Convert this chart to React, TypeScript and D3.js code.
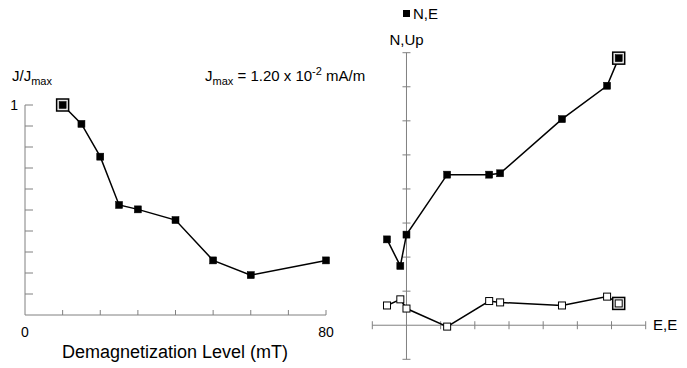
import React from "react";
import * as d3 from "d3";

// Demagnetization step (mT) and normalized intensity
const demagLevels = [10, 15, 20, 25, 30, 40, 50, 60, 80];
const intensity = [1.0, 0.91, 0.754, 0.524, 0.503, 0.452, 0.26, 0.19, 0.26];

// Orthogonal projection components (arbitrary units), NRM first
const eastComp = [6.21, 5.87, 4.55, 2.74, 2.42, 1.19, 0, -0.18, -0.57];
const northComp = [7.84, 7.03, 6.05, 4.46, 4.42, 4.42, 2.66, 1.74, 2.52];
const upComp = [0.64, 0.84, 0.58, 0.67, 0.71, -0.04, 0.49, 0.76, 0.58];

const leftXTicks = [10, 20, 30, 40, 50, 60, 70, 80];
const leftYTicks = [0.1, 0.2, 0.3, 0.4, 0.5, 0.6, 0.7, 0.8, 0.9, 1.0];
const rightXTicks = [-1, 1, 2, 3, 4, 5, 6, 7];
const rightYTicks = [-1, 1, 2, 3, 4, 5, 6, 7, 8];

const FONT = "'Liberation Sans', Arial, Helvetica, sans-serif";
const AXIS = "#808080";
const MS = 7; // marker size

const Marker = ({ x, y, filled, first }: { x: number; y: number; filled: boolean; first?: boolean }) => (
  <g>
    {first && (
      <rect x={x - 6} y={y - 6} width={12} height={12} fill="#e8e8e8" stroke="#000" strokeWidth={1.5} />
    )}
    <rect
      x={x - MS / 2}
      y={y - MS / 2}
      width={MS}
      height={MS}
      fill={filled ? "#000" : "#fff"}
      stroke="#000"
      strokeWidth={filled ? 0.5 : 1}
    />
  </g>
);

const App = () => {
  // left panel scales
  const x1 = d3.scaleLinear().domain([0, 80]).range([25, 326]);
  const y1 = d3.scaleLinear().domain([0, 1]).range([315, 105]);
  const line1 = d3
    .line<number>()
    .x((d, i) => x1(demagLevels[i]))
    .y((d) => y1(d));

  // right panel scales (equal units)
  const x2 = d3.scaleLinear().domain([-1, 7]).range([372.3, 645.7]);
  const y2 = d3.scaleLinear().domain([-1, 8]).range([359.3, 52.7]);
  const lineNE = d3
    .line<number>()
    .x((d) => x2(d))
    .y((d, i) => y2(northComp[i]));
  const lineEU = d3
    .line<number>()
    .x((d) => x2(d))
    .y((d, i) => y2(upComp[i]));

  return (
    <svg
      width={687}
      height={368}
      style={{ position: "absolute", left: 0, top: 0, background: "#fff" }}
      fontFamily={FONT}
    >
      {/* ---------- left panel ---------- */}
      <line x1={x1(0)} x2={x1(0)} y1={y1(1)} y2={y1(0)} stroke={AXIS} />
      <line x1={x1(0)} x2={x1(80)} y1={y1(0)} y2={y1(0)} stroke={AXIS} />
      {leftYTicks.map((t) => (
        <line key={"ly" + t} x1={x1(0)} x2={x1(0) + 8} y1={y1(t)} y2={y1(t)} stroke={AXIS} />
      ))}
      {leftXTicks.map((t) => (
        <line key={"lx" + t} x1={x1(t)} x2={x1(t)} y1={y1(0)} y2={y1(0) - 5} stroke={AXIS} />
      ))}
      <text x={18} y={y1(1) + 5} fontSize={14} textAnchor="end" fill="#000">1</text>
      <text x={x1(0)} y={337} fontSize={14} textAnchor="middle">0</text>
      <text x={x1(80)} y={337} fontSize={14} textAnchor="middle">80</text>
      <text x={175} y={358} fontSize={18} textAnchor="middle">Demagnetization Level (mT)</text>
      <text x={12} y={81} fontSize={15}>
        J/J<tspan fontSize={11} dy={4}>max</tspan>
      </text>
      <text x={205} y={81} fontSize={15}>
        J<tspan fontSize={11} dy={4}>max</tspan>
        <tspan dy={-4}> = 1.20 x 10</tspan>
        <tspan fontSize={11} dy={-6}>-2</tspan>
        <tspan dy={6}> mA/m</tspan>
      </text>
      <path d={line1(intensity) || ""} fill="none" stroke="#000" strokeWidth={1.5} />
      {intensity.map((v, i) => (
        <Marker key={"lm" + i} x={x1(demagLevels[i])} y={y1(v)} filled first={i === 0} />
      ))}

      {/* ---------- right panel ---------- */}
      <line x1={x2(0)} x2={x2(0)} y1={y2(8)} y2={y2(-1)} stroke={AXIS} />
      <line x1={x2(-1)} x2={x2(7)} y1={y2(0)} y2={y2(0)} stroke={AXIS} />
      {rightYTicks.map((t) => (
        <line key={"ry" + t} x1={x2(0) - 4} x2={x2(0) + 4} y1={y2(t)} y2={y2(t)} stroke={AXIS} />
      ))}
      {rightXTicks.map((t) => (
        <line key={"rx" + t} x1={x2(t)} x2={x2(t)} y1={y2(0) - 4} y2={y2(0) + 4} stroke={AXIS} />
      ))}
      <text x={x2(0)} y={45} fontSize={15} textAnchor="middle">N,Up</text>
      <text x={653} y={330} fontSize={15}>E,E</text>
      <rect x={403} y={10} width={7} height={7} fill="#000" />
      <text x={413} y={19} fontSize={15}>N,E</text>

      <path d={lineNE(eastComp) || ""} fill="none" stroke="#000" strokeWidth={1.5} />
      <path d={lineEU(eastComp) || ""} fill="none" stroke="#000" strokeWidth={1.5} />
      {eastComp.map((e, i) => (
        <Marker key={"ne" + i} x={x2(e)} y={y2(northComp[i])} filled first={i === 0} />
      ))}
      {eastComp.map((e, i) => (
        <Marker key={"eu" + i} x={x2(e)} y={y2(upComp[i])} filled={false} first={i === 0} />
      ))}
    </svg>
  );
};

export default App;
